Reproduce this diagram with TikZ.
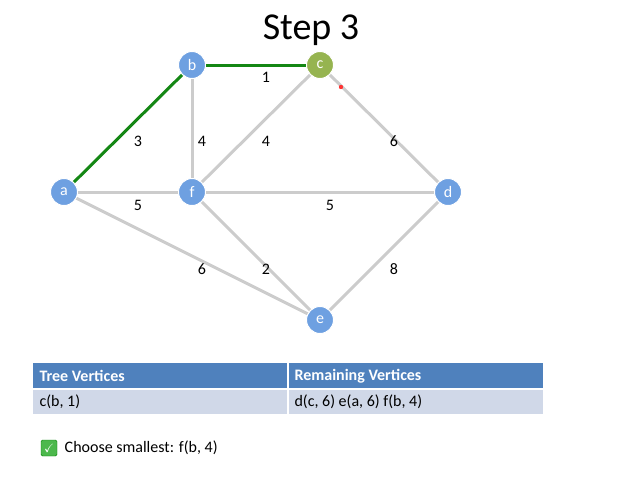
\documentclass[tikz,border=0pt]{standalone}
\usepackage{amssymb}
\usepackage{fontspec}
\setmainfont{Carlito}
\usetikzlibrary{positioning}
\definecolor{vblue}{RGB}{110,160,225}
\definecolor{vgreen}{RGB}{150,180,80}
\definecolor{tgreen}{RGB}{20,135,20}
\definecolor{hdblue}{RGB}{79,129,189}
\definecolor{rowblue}{RGB}{208,216,232}
\tikzset{
  vert/.style={circle,draw=white,line width=1pt,fill=vblue,text=white,minimum size=27pt,inner sep=0pt,font=\fontsize{16}{16}\selectfont},
  edge/.style={line width=3pt,draw=black!20},
  tree/.style={line width=3pt,draw=tgreen},
  wt/.style={font=\fontsize{16}{16}\selectfont},
  cell/.style={anchor=west,font=\fontsize{16}{16}\selectfont}
}
\begin{document}
\begin{tikzpicture}[x=1pt,y=-1pt]
\useasboundingbox (0,0) rectangle (640,480);
\node[font=\fontsize{38}{38}\selectfont] (title) at (311,30) {Step 3};
\coordinate (a) at (64,192);
\coordinate (b) at (192,65);
\coordinate (c) at (320,65);
\coordinate (d) at (448,192);
\coordinate (e) at (320,320);
\coordinate (f) at (192,192);
\draw[edge] (b) -- (f);
\draw[edge] (c) -- (f);
\draw[edge] (c) -- (d);
\draw[edge] (a) -- (f);
\draw[edge] (f) -- (d);
\draw[edge] (a) -- (e);
\draw[edge] (f) -- (e);
\draw[edge] (d) -- (e);
\draw[tree] (a) -- (b);
\draw[tree] (b) -- (c);
\node[vert] (va) at (a) {a};
\node[vert] (vb) at (b) {b};
\node[vert,fill=vgreen] (vc) at (c) {c};
\node[vert] (vd) at (d) {d};
\node[vert] (ve) at (e) {e};
\node[vert] (vf) at (f) {f};
% weights
\node[wt] (w1) at (266,77) {1};
\node[wt] (w3) at (138,141) {3};
\node[wt] (w4a) at (202,141) {4};
\node[wt] (w4b) at (266,141) {4};
\node[wt] (w6a) at (394,141) {6};
\node[wt] (w5a) at (138,205) {5};
\node[wt] (w5b) at (330,205) {5};
\node[wt] (w6b) at (202,269) {6};
\node[wt] (w2) at (266,269) {2};
\node[wt] (w8) at (394,269) {8};
\fill[red!80] (341,87) circle (2.2);
% table
\fill[hdblue] (33,363) rectangle (543,388);
\fill[rowblue] (33,389.5) rectangle (543,414);
\draw[white,line width=1.5pt] (288,363) -- (288,414);
\node[cell,text=white,font=\fontsize{16}{16}\selectfont\bfseries] (h1) at (36,376) {Tree Vertices};
\node[cell,text=white,font=\fontsize{16}{16}\selectfont\bfseries] (h2) at (291,376) {Remaining Vertices};
\node[cell] (r1) at (36,402) {c(b, 1)};
\node[cell] (r2) at (291,402) {d(c, 6) e(a, 6) f(b, 4)};
% note
\node[fill=green!60!black!70,draw=green!50!black,rounded corners=1.5pt,minimum size=16pt,inner sep=0pt,text=white] (chk) at (49,448) {\fontsize{12}{12}\selectfont$\checkmark$};
\node[cell,right=4pt of chk] (note) {Choose smallest: f(b, 4)};
\end{tikzpicture}
\end{document}
